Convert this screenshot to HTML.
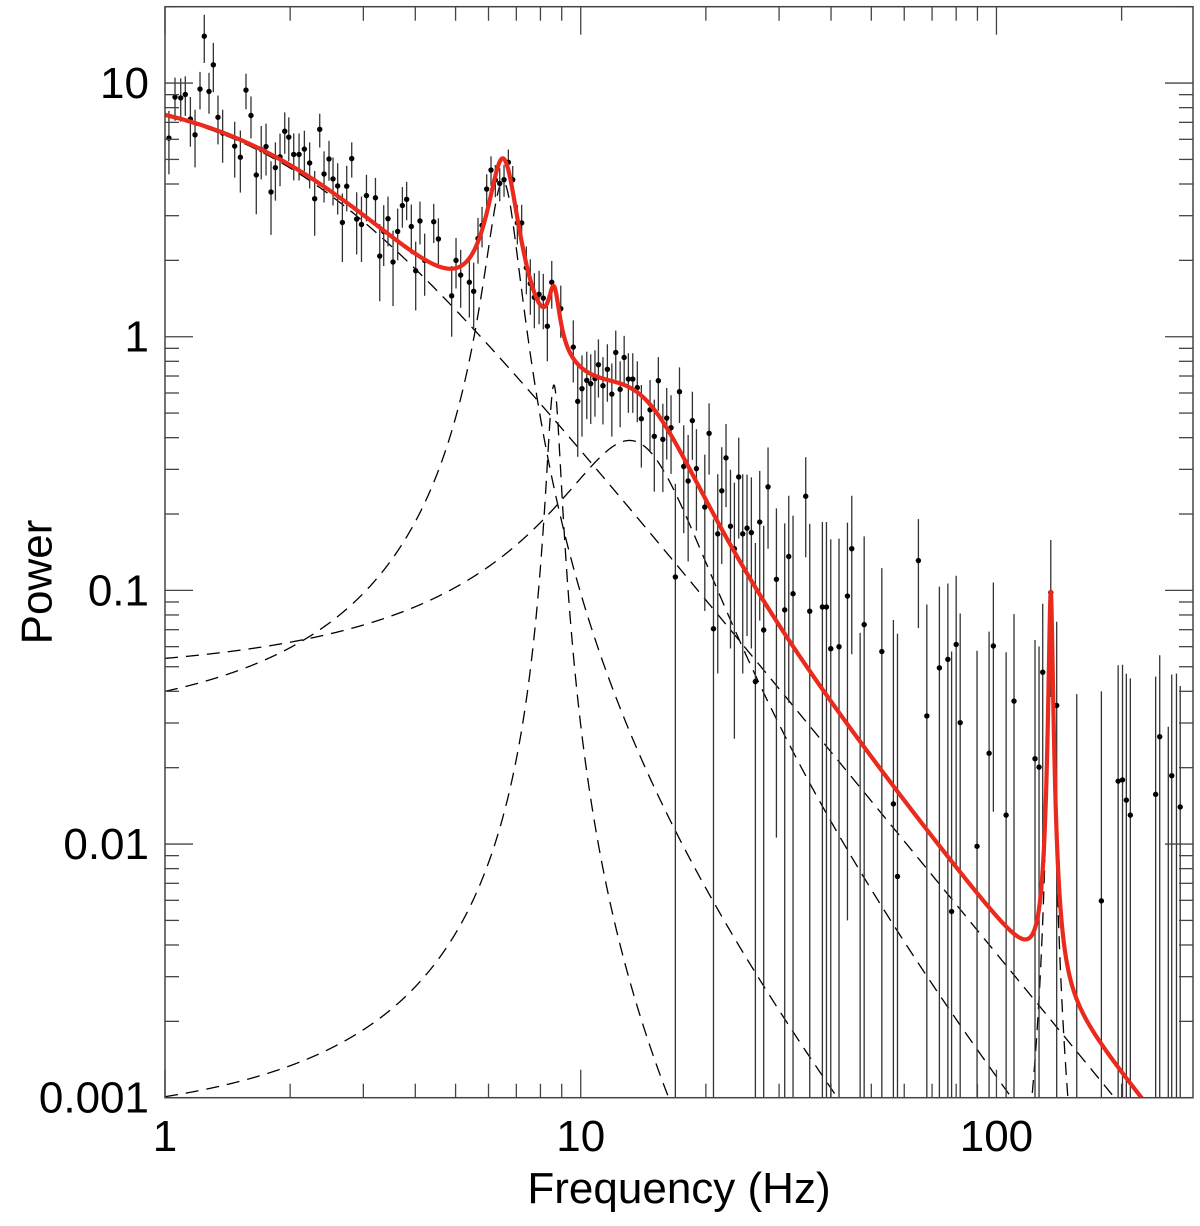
<!DOCTYPE html>
<html><head><meta charset="utf-8"><style>
html,body{margin:0;padding:0;background:#fff;width:1200px;height:1226px;overflow:hidden;}
svg{display:block;font-family:"Liberation Sans",Arial,sans-serif;overflow:hidden;}
</style></head>
<body>
<svg id="chart" width="1200" height="1226" viewBox="0 0 1200 1226" xmlns="http://www.w3.org/2000/svg">
<defs><clipPath id="plotclip"><rect x="165" y="6.7" width="1028" height="1091"/></clipPath></defs>
<rect x="0" y="0" width="1200" height="1226" fill="#fff"/>
<g id="components" clip-path="url(#plotclip)"></g>
<g id="errbars" clip-path="url(#plotclip)"></g>
<g id="points" clip-path="url(#plotclip)"></g>
<g id="model" clip-path="url(#plotclip)"></g>
<g id="axes"></g>
<text x="40" y="582" font-size="44" text-anchor="middle" transform="rotate(-90 40 582)" dominant-baseline="middle">Power</text>
<text x="679" y="1203" font-size="44" text-anchor="middle">Frequency (Hz)</text>
</svg>
<script>
// ---- data ----
const freq = [1.022,1.057,1.091,1.119,1.151,1.181,1.214,1.243,1.276,1.307,1.341,1.376,1.471,1.518,1.566,1.610,1.658,1.704,1.750,1.799,1.843,1.891,1.941,1.985,2.040,2.101,2.164,2.228,2.291,2.356,2.413,2.480,2.536,2.602,2.671,2.736,2.813,2.891,2.969,3.052,3.208,3.285,3.358,3.439,3.536,3.628,3.724,3.813,3.913,4.009,4.105,4.213,4.430,4.546,4.893,5.012,5.143,5.396,5.527,5.661,5.789,5.940,6.084,6.232,6.385,6.539,6.697,6.861,7.04,7.21,7.40,7.564,7.735,7.94,8.128,8.312,8.517,8.953,9.596,9.835,10.07,10.34,10.57,10.82,11.03,
11.31,11.59,11.88,12.14,12.44,12.72,13.02,13.34,13.68,13.99,14.68,15.03,15.37,15.76,16.10,16.49,16.89,17.28,17.69,18.13,18.56,18.98,19.88,20.36,20.86,21.36,21.84,22.36,22.92,23.42,23.99,24.53,25.12,25.73,26.31,26.95,27.55,28.22,29.56,30.95,31.65,32.41,34.77,35.55,38.13,39.0,39.94,41.81,43.81,44.87,48.06,
47.0,53.0,56.5,57.8,64.9,68.0,72.9,76.4,78.0,80.0,81.8,89.8,96.0,98.3,105.5,110.2,123.8,126.6,129.2,135.1,139.6,156,178.8,196.2,201,205.3,209.9,241.5,247,259,264,271,276.7];
const power = [6.07,8.80,8.74,9.02,7.21,6.25,9.47,15.3,9.27,11.8,7.33,6.35,5.64,5.10,9.38,7.45,4.34,5.47,5.62,3.72,4.64,5.12,6.46,6.12,5.23,5.23,5.49,4.84,3.50,6.57,4.38,5.02,4.19,3.93,2.82,3.92,5.04,2.91,2.77,3.60,3.53,2.08,2.60,2.92,1.97,2.60,3.29,3.48,2.72,1.82,2.86,2.0,2.84,2.43,1.45,2.0,1.75,1.64,1.51,2.44,2.75,3.82,4.54,4.15,4.02,4.16,4.87,4.16,2.81,2.81,1.87,1.62,1.43,1.47,1.42,1.10,1.64,1.29,0.91,0.556,0.624,0.673,0.653,0.684,0.776,
0.641,0.744,0.594,0.867,0.62,0.828,0.681,0.681,0.63,0.475,0.515,0.405,0.671,0.394,0.478,0.438,0.113,0.607,0.308,0.270,0.467,0.302,0.213,0.416,0.0706,0.167,0.247,0.333,0.179,0.146,0.28,0.167,0.176,0.169,0.0437,0.186,0.0698,0.256,0.1106,0.0838,0.136,0.097,0.235,0.0828,0.086,0.086,0.0589,0.060,0.095,0.146,0.0733,
-0.01,0.0574,0.0144,0.00745,0.131,0.032,0.0495,0.0535,0.00542,0.0612,0.0301,0.0098,0.0228,0.0604,0.013,0.0366,0.0217,0.0201,0.0476,0.098,0.0352,-0.005,0.00597,0.0177,0.0179,0.0149,0.013,0.0157,0.0265,-0.002,0.0186,-0.003,0.014];
const sigma = [1.7,1.7,1.7,1.6,1.6,1.6,1.6,3.3,1.7,2.6,1.6,1.5,
1.4,1.4,1.5,1.4,1.3,1.3,1.3,1.2,1.2,1.2,1.2,1.2,
1.1,1.1,1.0,1.0,1.0,1.0,1.0,0.9,0.9,0.9,0.85,0.8,0.8,0.8,0.8,0.75,
0.7,0.7,0.7,0.65,0.65,0.6,0.6,0.6,0.6,0.55,0.55,0.55,0.5,0.5,
0.45,0.45,0.45,0.45,0.45,0.5,0.5,0.55,
0.6,0.6,0.6,0.6,0.6,0.55,0.5,0.5,
0.4,0.4,0.35,0.35,0.35,0.3,0.35,
0.3,0.25,0.22,0.22,0.2,0.2,0.2,0.2,
0.19,0.19,0.19,0.19,0.18,0.18,0.18,0.18,0.17,0.17,
0.16,0.16,0.16,0.15,0.15,0.15,0.15,0.15,0.14,0.14,
0.14,0.13,0.13,0.13,0.12,0.12,0.12,0.12,0.12,0.12,
0.12,0.12,0.11,0.11,0.11,0.11,0.11,0.11,0.10,0.10,
0.10,0.10,0.10,0.10,0.10,0.10,0.10,0.10,0.09,0.09,0.09,
0.078,0.065,0.062,0.06,0.06,0.056,0.054,0.053,0.052,0.053,0.051,0.048,0.046,0.047,0.044,0.044,0.042,0.04,0.041,0.06,0.04,0.044,0.034,0.033,0.033,0.032,0.032,0.03,0.029,0.031,0.028,0.05,0.028];
// model components: Lorentzians  A*D^2/((f-f0)^2+D^2)
const compCenter = [0, 6.5, 8.62, 13.1, 135.1];
const compWidth2 = [4.0, 0.298, 0.091, 23.5, 1.9];
const compAmp = [9.25, 4.1, 0.645, 0.39, 0.096];
const xTickVals = [1, 10, 100];
const xTickLabels = ["1", "10", "100"];
const yTickVals = [0.001, 0.01, 0.1, 1, 10];
const yTickLabels = ["0.001", "0.01", "0.1", "1", "10"];

// ---- scales ----
const X0 = 165, X1 = 1193, Y0 = 6.7, Y1 = 1097.7;
const LXMIN = 0, LXMAX = Math.log10(297), LYMIN = -3, LYMAX = Math.log10(20);
const PFLOOR = 0.0009;
function sx(f){ return X0 + (Math.log10(f) - LXMIN) / (LXMAX - LXMIN) * (X1 - X0); }
function sy(p){ return Y1 - (Math.log10(p) - LYMIN) / (LYMAX - LYMIN) * (Y1 - Y0); }
const NS = "http://www.w3.org/2000/svg";
function mk(tag, attrs, parent){ const e = document.createElementNS(NS, tag); for (const k in attrs) e.setAttribute(k, attrs[k]); parent.appendChild(e); return e; }

function comp(i, f){ const d = f - compCenter[i]; return compAmp[i] * compWidth2[i] / (d*d + compWidth2[i]); }

const grid = [];
for (let i = 0; i <= 3000; i++) grid.push(Math.pow(10, LXMIN + (LXMAX - LXMIN) * i / 3000));

const gComp = document.getElementById('components');
for (let c = 0; c < compCenter.length; c++) {
  let d = '';
  grid.forEach((f, k) => { const v = Math.max(comp(c, f), PFLOOR); d += (k ? 'L' : 'M') + sx(f).toFixed(2) + ' ' + sy(v).toFixed(2); });
  const p = mk('path', {d: d, fill: 'none', stroke: '#000', 'stroke-width': '1.3', 'stroke-dasharray': '13 8'}, gComp);
  
  
}

const gErr = document.getElementById('errbars');
const gPts = document.getElementById('points');
for (let i = 0; i < freq.length; i++) {
  const x = sx(freq[i]);
  const hi = power[i] + sigma[i];
  const lo = power[i] - sigma[i];
  const yTop = sy(hi);
  const yBot = lo > 0.001 ? sy(lo) : Y1;
  const ln = mk('line', {x1: x, x2: x, y1: yTop, y2: yBot, stroke: '#333', 'stroke-width': '1.3'}, gErr);
  
  
  if (power[i] > 0.001) {
    const c = mk('circle', {cx: x, cy: sy(power[i]), r: '2.7', fill: '#000'}, gPts);
    
    
  }
}

const gModel = document.getElementById('model');
let dm = '';
grid.forEach((f, k) => { let s = 0; for (let c = 0; c < compCenter.length; c++) s += comp(c, f); s = Math.max(s, PFLOOR); dm += (k ? 'L' : 'M') + sx(f).toFixed(2) + ' ' + sy(s).toFixed(2); });
const mp = mk('path', {d: dm, fill: 'none', stroke: '#ea2a1c', 'stroke-width': '4.2', 'stroke-linejoin': 'round'}, gModel);



// ---- axes ----
const gAx = document.getElementById('axes');
const frame = mk('rect', {x: X0, y: Y0, width: X1 - X0, height: Y1 - Y0, fill: 'none', stroke: '#444', 'stroke-width': '1.5'}, gAx);


for (let dec = 1; dec <= 100; dec *= 10) {
  for (let m = 1; m <= 9; m++) {
    const f = dec * m; if (f > 297) continue;
    const x = sx(f); const L = m === 1 ? 28 : 14;
    const t1 = mk('line', {x1: x, x2: x, y1: Y1, y2: Y1 - L, stroke: '#444', 'stroke-width': '1.3'}, gAx);
    
    
    const t2 = mk('line', {x1: x, x2: x, y1: Y0, y2: Y0 + L, stroke: '#444', 'stroke-width': '1.3'}, gAx);
    
    
  }
}
xTickVals.forEach((v, i) => {
  const t = mk('text', {x: sx(v), y: 1151, 'font-size': '44', 'text-anchor': 'middle'}, gAx);
  t.textContent = xTickLabels[i];
  
  
});
for (let dec = 0.001; dec <= 10.5; dec *= 10) {
  for (let m = 1; m <= 9; m++) {
    const p = dec * m; if (p > 20.01) continue;
    const y = sy(p); const L = m === 1 ? 28 : 14;
    const t1 = mk('line', {x1: X0, x2: X0 + L, y1: y, y2: y, stroke: '#444', 'stroke-width': '1.3'}, gAx);
    
    
    const t2 = mk('line', {x1: X1, x2: X1 - L, y1: y, y2: y, stroke: '#444', 'stroke-width': '1.3'}, gAx);
    
    
  }
}
yTickVals.forEach((v, i) => {
  const t = mk('text', {x: 149, y: sy(v) + 15, 'font-size': '44', 'text-anchor': 'end'}, gAx);
  t.textContent = yTickLabels[i];
  
  
});
</script>
</body></html>
